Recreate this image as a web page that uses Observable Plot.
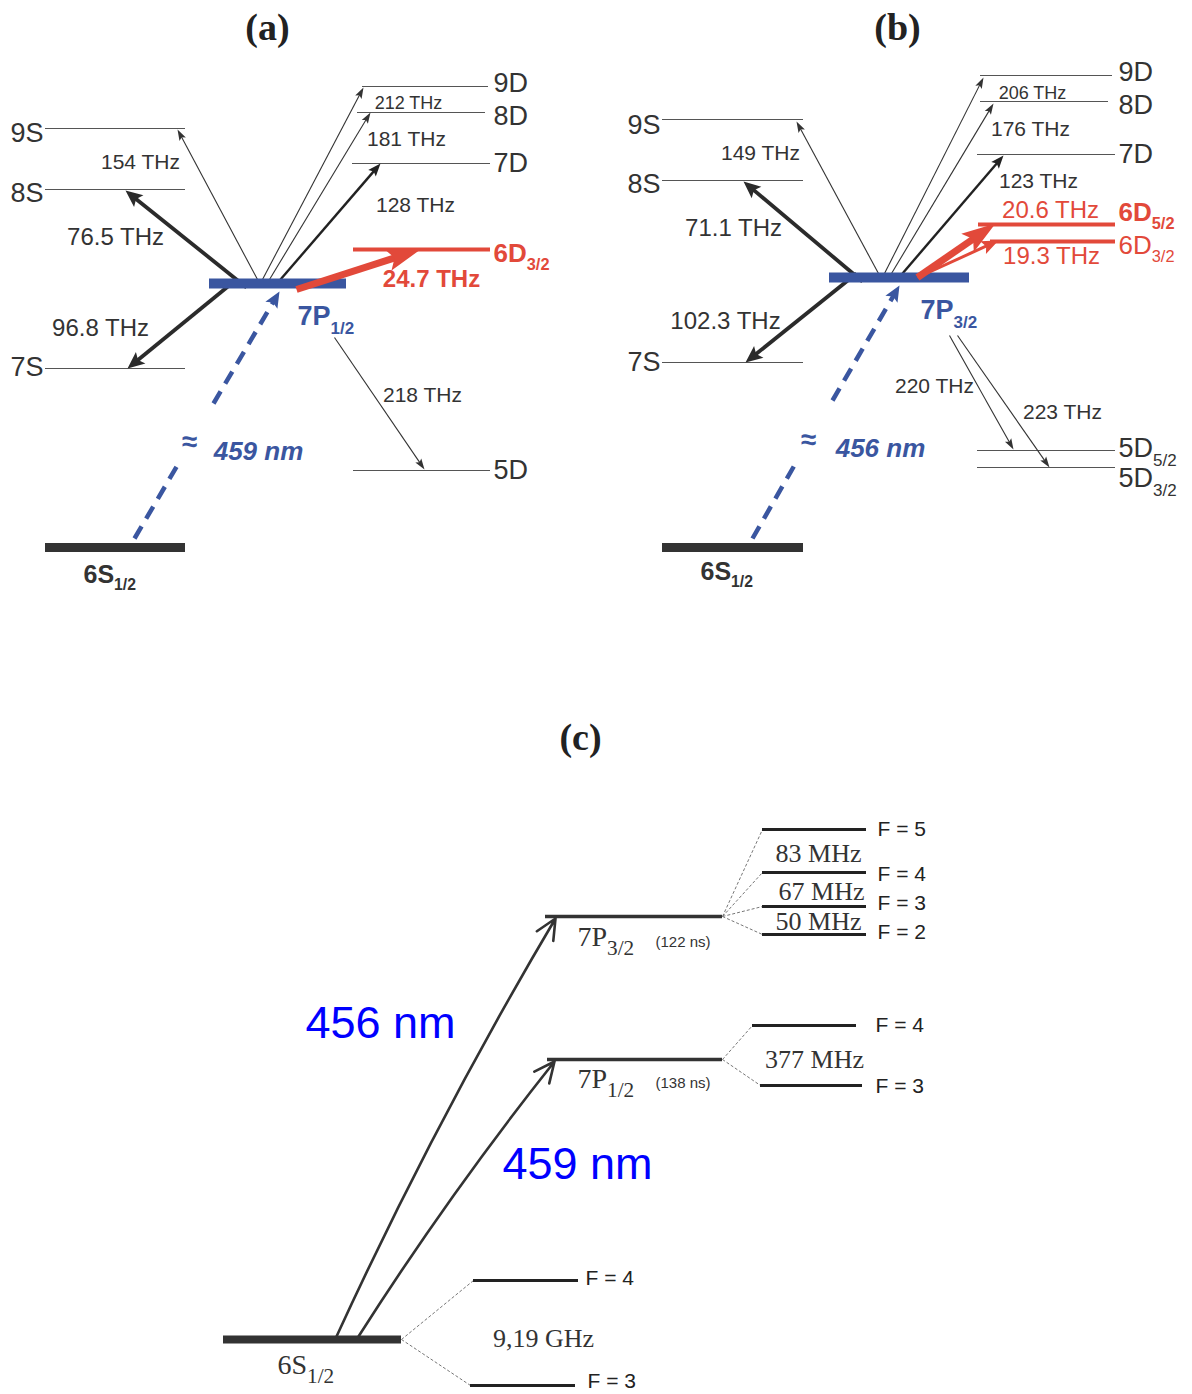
<!DOCTYPE html>
<html><head><meta charset="utf-8">
<script src="https://cdn.jsdelivr.net/npm/d3@7"></script>
<script src="https://cdn.jsdelivr.net/npm/@observablehq/plot@0.6"></script>
<style>body{margin:0;background:#fff}</style>
</head><body><div id="chart"></div>
<script>
// ---------- data (diagram coordinates) ----------
const panelTitles = [
  {text: "(a)", x: 267, y: 27},
  {text: "(b)", x: 897, y: 27},
  {text: "(c)", x: 580, y: 737}
];

const levels = [
  // panel (a)
  {name: "9S", x1: 45, x2: 185, y: 128, kind: "fine"},
  {name: "8S", x1: 45, x2: 185, y: 189, kind: "fine"},
  {name: "7S", x1: 45, x2: 185, y: 368, kind: "fine"},
  {name: "9D", x1: 362, x2: 488, y: 86, kind: "fine"},
  {name: "8D", x1: 357, x2: 485, y: 112, kind: "fine"},
  {name: "7D", x1: 352, x2: 490, y: 163, kind: "fine"},
  {name: "5D", x1: 353, x2: 490, y: 470, kind: "fine"},
  {name: "6D3/2", x1: 353, x2: 490, y: 249, kind: "red"},
  {name: "7P1/2", x1: 209, x2: 346, y: 283, kind: "excited"},
  {name: "6S1/2", x1: 45, x2: 185, y: 547, kind: "ground"},
  // panel (b)
  {name: "9S", x1: 662, x2: 803, y: 119, kind: "fine"},
  {name: "8S", x1: 662, x2: 803, y: 180, kind: "fine"},
  {name: "7S", x1: 662, x2: 803, y: 362, kind: "fine"},
  {name: "9D", x1: 980, x2: 1112, y: 75, kind: "fine"},
  {name: "8D", x1: 980, x2: 1108, y: 101, kind: "fine"},
  {name: "7D", x1: 977, x2: 1115, y: 154, kind: "fine"},
  {name: "5D5/2", x1: 977, x2: 1115, y: 450, kind: "fine"},
  {name: "5D3/2", x1: 977, x2: 1115, y: 467, kind: "fine"},
  {name: "6D5/2", x1: 978, x2: 1115, y: 224, kind: "red"},
  {name: "6D3/2", x1: 990, x2: 1115, y: 241, kind: "red"},
  {name: "7P3/2", x1: 829, x2: 969, y: 277, kind: "excited"},
  {name: "6S1/2", x1: 662, x2: 803, y: 547, kind: "ground"},
  // panel (c)
  {name: "6S1/2", x1: 223, x2: 401, y: 1339, kind: "groundC"},
  {name: "7P1/2", x1: 547, x2: 722, y: 1059, kind: "levelC"},
  {name: "7P3/2", x1: 545, x2: 722, y: 916, kind: "levelC"},
  {name: "6S F=4", x1: 473, x2: 578, y: 1280, kind: "hfs"},
  {name: "6S F=3", x1: 470, x2: 575, y: 1385, kind: "hfs"},
  {name: "7P1/2 F=4", x1: 752, x2: 856, y: 1025, kind: "hfs"},
  {name: "7P1/2 F=3", x1: 760, x2: 862, y: 1085, kind: "hfs"},
  {name: "7P3/2 F=5", x1: 762, x2: 866, y: 829, kind: "hfs"},
  {name: "7P3/2 F=4", x1: 762, x2: 866, y: 872, kind: "hfs"},
  {name: "7P3/2 F=3", x1: 762, x2: 866, y: 906, kind: "hfs"},
  {name: "7P3/2 F=2", x1: 762, x2: 866, y: 934, kind: "hfs"}
];

const levelLabels = [
  // (a)
  {text: "9S", x: 43, y: 133, kind: "left"},
  {text: "8S", x: 43, y: 193, kind: "left"},
  {text: "7S", x: 43, y: 367, kind: "left"},
  {text: "9D", x: 493, y: 83, kind: "right"},
  {text: "8D", x: 493, y: 116, kind: "right"},
  {text: "7D", x: 493, y: 163, kind: "right"},
  {text: "5D", x: 493, y: 470, kind: "right"},
  {text: "6D_3/2", x: 493, y: 253, kind: "redBold"},
  {text: "7P_1/2", x: 297, y: 316, kind: "blueBold"},
  {text: "6S_1/2", x: 83, y: 574, kind: "bold"},
  // (b)
  {text: "9S", x: 660, y: 125, kind: "left"},
  {text: "8S", x: 660, y: 184, kind: "left"},
  {text: "7S", x: 660, y: 362, kind: "left"},
  {text: "9D", x: 1118, y: 72, kind: "right"},
  {text: "8D", x: 1118, y: 105, kind: "right"},
  {text: "7D", x: 1118, y: 154, kind: "right"},
  {text: "6D_5/2", x: 1118, y: 212, kind: "redBold"},
  {text: "6D_3/2", x: 1118, y: 245, kind: "red"},
  {text: "5D_5/2", x: 1118, y: 448, kind: "right"},
  {text: "5D_3/2", x: 1118, y: 478, kind: "right"},
  {text: "7P_3/2", x: 920, y: 310, kind: "blueBold"},
  {text: "6S_1/2", x: 700, y: 571, kind: "bold"},
  // (c)
  {text: "6S_1/2", x: 277, y: 1365, kind: "serifC"},
  {text: "7P_3/2", x: 577, y: 937, kind: "serifC"},
  {text: "7P_1/2", x: 577, y: 1079, kind: "serifC"},
  {text: "(122 ns)", x: 655, y: 942, kind: "life"},
  {text: "(138 ns)", x: 655, y: 1083, kind: "life"},
  {text: "F = 5", x: 877, y: 829, kind: "F"},
  {text: "F = 4", x: 877, y: 874, kind: "F"},
  {text: "F = 3", x: 877, y: 903, kind: "F"},
  {text: "F = 2", x: 877, y: 932, kind: "F"},
  {text: "F = 4", x: 875, y: 1025, kind: "F"},
  {text: "F = 3", x: 875, y: 1086, kind: "F"},
  {text: "F = 4", x: 585, y: 1278, kind: "F"},
  {text: "F = 3", x: 587, y: 1381, kind: "F"}
];

// transitions drawn as straight arrows with filled heads
const transitions = [
  // (a) from 7P1/2
  {to: "9S", x1: 257, y1: 279, x2: 177, y2: 129, kind: "thin"},
  {to: "9D", x1: 262, y1: 279, x2: 363, y2: 87, kind: "thin"},
  {to: "8D", x1: 269, y1: 279, x2: 370, y2: 112, kind: "thin"},
  {to: "7D", x1: 280, y1: 279, x2: 380, y2: 163, kind: "medium"},
  {to: "8S", x1: 246, y1: 287, x2: 125, y2: 190, kind: "thick"},
  {to: "7S", x1: 236, y1: 279, x2: 127, y2: 368, kind: "thick"},
  {to: "5D", x1: 334, y1: 337, x2: 424, y2: 469, kind: "thin"},
  {to: "7P1/2", x1: 213, y1: 403, x2: 279, y2: 291, kind: "dashed"},
  {to: "7P1/2", x1: 134, y1: 538, x2: 178, y2: 463, kind: "dashedTail"},
  {to: "6D3/2", x1: 296, y1: 289, x2: 420, y2: 249, kind: "redWide"},
  // (b) from 7P3/2
  {to: "9S", x1: 878, y1: 273, x2: 796, y2: 121, kind: "thin"},
  {to: "9D", x1: 884, y1: 273, x2: 983, y2: 77, kind: "thin"},
  {to: "8D", x1: 891, y1: 273, x2: 993, y2: 103, kind: "thin"},
  {to: "7D", x1: 902, y1: 273, x2: 1003, y2: 155, kind: "medium"},
  {to: "8S", x1: 862, y1: 281, x2: 743, y2: 181, kind: "thick"},
  {to: "7S", x1: 856, y1: 273, x2: 745, y2: 362, kind: "thick"},
  {to: "5D5/2", x1: 949, y1: 335, x2: 1013, y2: 449, kind: "thin"},
  {to: "5D3/2", x1: 957, y1: 335, x2: 1049, y2: 467, kind: "thin"},
  {to: "7P3/2", x1: 832, y1: 400, x2: 899, y2: 285, kind: "dashed"},
  {to: "7P3/2", x1: 752, y1: 538, x2: 795, y2: 463, kind: "dashedTail"},
  {to: "6D5/2", x1: 917, y1: 277, x2: 995, y2: 223, kind: "redWide"},
  {to: "6D3/2", x1: 917, y1: 277, x2: 998, y2: 240, kind: "redNarrow"}
];

// panel (c) excitation arrows (slightly bent)
const excitations = [
  {label: "456 nm", x1: 336, y1: 1336, x2: 555, y2: 918},
  {label: "459 nm", x1: 358, y1: 1336, x2: 554, y2: 1061}
];

// panel (c) hyperfine splitting guides
const splittings = [
  {x1: 401, y1: 1339, x2: 473, y2: 1280},
  {x1: 401, y1: 1339, x2: 470, y2: 1385},
  {x1: 722, y1: 1059, x2: 752, y2: 1025},
  {x1: 722, y1: 1059, x2: 760, y2: 1085},
  {x1: 722, y1: 916, x2: 762, y2: 829},
  {x1: 722, y1: 916, x2: 762, y2: 872},
  {x1: 722, y1: 916, x2: 762, y2: 906},
  {x1: 722, y1: 916, x2: 762, y2: 934}
];

const transitionLabels = [
  // (a)
  {text: "154 THz", x: 140, y: 162, kind: "f21"},
  {text: "76.5 THz", x: 115, y: 237, kind: "f24"},
  {text: "96.8 THz", x: 100, y: 328, kind: "f24"},
  {text: "212 THz", x: 408, y: 103, kind: "f18"},
  {text: "181 THz", x: 406, y: 139, kind: "f21"},
  {text: "128 THz", x: 415, y: 205, kind: "f21"},
  {text: "24.7 THz", x: 431, y: 279, kind: "redBold"},
  {text: "218 THz", x: 422, y: 395, kind: "f21"},
  {text: "≈", x: 189, y: 442, kind: "approx"},
  {text: "459 nm", x: 258, y: 451, kind: "nmItalic"},
  // (b)
  {text: "149 THz", x: 760, y: 153, kind: "f21"},
  {text: "71.1 THz", x: 733, y: 228, kind: "f24"},
  {text: "102.3 THz", x: 725, y: 321, kind: "f24"},
  {text: "206 THz", x: 1032, y: 93, kind: "f18"},
  {text: "176 THz", x: 1030, y: 129, kind: "f21"},
  {text: "123 THz", x: 1038, y: 181, kind: "f21"},
  {text: "20.6 THz", x: 1050, y: 210, kind: "red"},
  {text: "19.3 THz", x: 1051, y: 256, kind: "red"},
  {text: "220 THz", x: 934, y: 386, kind: "f21"},
  {text: "223 THz", x: 1062, y: 412, kind: "f21"},
  {text: "≈", x: 808, y: 440, kind: "approx"},
  {text: "456 nm", x: 880, y: 448, kind: "nmItalic"},
  // (c)
  {text: "456 nm", x: 380, y: 1023, kind: "nmC"},
  {text: "459 nm", x: 577, y: 1164, kind: "nmC"},
  {text: "83 MHz", x: 818, y: 853, kind: "serif"},
  {text: "67 MHz", x: 821, y: 891, kind: "serif"},
  {text: "50 MHz", x: 818, y: 921, kind: "serif"},
  {text: "377 MHz", x: 814, y: 1059, kind: "serif"},
  {text: "9,19 GHz", x: 543, y: 1338, kind: "serif"}
];

// ---------- styles ----------
const BLUE = "#3a56a0", RED = "#e2493a", DARK = "#333333";
const SANS = "Liberation Sans, Arial, sans-serif";
const SERIF = "Liberation Serif, Times New Roman, serif";

const levelStyle = {
  fine: {stroke: "#555", strokeWidth: 1.2},
  red: {stroke: RED, strokeWidth: 4},
  excited: {stroke: BLUE, strokeWidth: 10},
  ground: {stroke: DARK, strokeWidth: 9},
  groundC: {stroke: DARK, strokeWidth: 8},
  levelC: {stroke: DARK, strokeWidth: 3.5},
  hfs: {stroke: "#222", strokeWidth: 3}
};

const arrowStyle = {
  thin: {stroke: "#333", width: 1.1, L: 11, w: 3.6},
  medium: {stroke: "#222", width: 2.4, L: 13, w: 5},
  thick: {stroke: "#2b2b2b", width: 3.8, L: 17, w: 7.5},
  dashed: {stroke: BLUE, width: 4.5, L: 16, w: 7, dash: "14,9"},
  dashedTail: {stroke: BLUE, width: 4.5, dash: "14,9", noHead: true},
  redWide: {stroke: RED, width: 7, L: 34, w: 11},
  redNarrow: {stroke: RED, width: 3, L: 17, w: 7}
};

const labelStyle = {
  left: {fontFamily: SANS, fontSize: 27, fill: DARK, textAnchor: "end"},
  right: {fontFamily: SANS, fontSize: 27, fill: DARK, textAnchor: "start"},
  redBold: {fontFamily: SANS, fontSize: 26, fill: RED, fontWeight: "bold", textAnchor: "start"},
  red: {fontFamily: SANS, fontSize: 26, fill: RED, textAnchor: "start"},
  blueBold: {fontFamily: SANS, fontSize: 27, fill: BLUE, fontWeight: "bold", textAnchor: "start"},
  bold: {fontFamily: SANS, fontSize: 25, fill: DARK, fontWeight: "bold", textAnchor: "start"},
  serifC: {fontFamily: SERIF, fontSize: 28, fill: "#333", textAnchor: "start"},
  life: {fontFamily: SANS, fontSize: 15, fill: "#333", textAnchor: "start"},
  F: {fontFamily: SANS, fontSize: 21, fill: "#222", textAnchor: "start"}
};

const tLabelStyle = {
  f21: {fontFamily: SANS, fontSize: 21, fill: DARK},
  f24: {fontFamily: SANS, fontSize: 24, fill: DARK},
  f18: {fontFamily: SANS, fontSize: 18, fill: DARK},
  redBold: {fontFamily: SANS, fontSize: 24, fill: RED, fontWeight: "bold"},
  red: {fontFamily: SANS, fontSize: 24, fill: RED},
  approx: {fontFamily: SANS, fontSize: 28, fill: BLUE, fontWeight: "bold"},
  nmItalic: {fontFamily: SANS, fontSize: 26, fill: BLUE, fontWeight: "bold", fontStyle: "italic"},
  nmC: {fontFamily: SANS, fontSize: 45, fill: "#0000ff"},
  serif: {fontFamily: SERIF, fontSize: 26, fill: "#333"}
};

// ---------- helpers ----------
const ang = d => Math.atan2(d.x2 - d.x1, -(d.y2 - d.y1)) * 180 / Math.PI;
const unit = d => { const dx = d.x2 - d.x1, dy = d.y2 - d.y1, n = Math.hypot(dx, dy); return [dx / n, dy / n]; };
const headSymbol = (L, w) => ({
  draw(ctx) {
    ctx.moveTo(0, 0);
    ctx.lineTo(-w, L);
    ctx.lineTo(0, L * 0.8);
    ctx.lineTo(w, L);
    ctx.closePath();
  }
});

function arrowMarks(kind) {
  const s = arrowStyle[kind];
  const data = transitions.filter(d => d.kind === kind);
  const cut = s.noHead ? 0 : s.L * 0.7;
  const marks = [
    Plot.link(data, {
      x1: "x1", y1: "y1",
      x2: d => d.x2 - unit(d)[0] * cut,
      y2: d => d.y2 - unit(d)[1] * cut,
      stroke: s.stroke, strokeWidth: s.width,
      strokeDasharray: s.dash, strokeLinecap: "butt"
    })
  ];
  if (!s.noHead) marks.push(Plot.dot(data, {
    x: "x2", y: "y2", rotate: ang,
    symbol: headSymbol(s.L, s.w), r: 3,
    fill: s.stroke, stroke: "none"
  }));
  return marks;
}

const levelMark = kind => Plot.ruleY(levels.filter(d => d.kind === kind), {
  y: "y", x1: "x1", x2: "x2", ...levelStyle[kind]
});

const textMarks = (arr, styles, defaults = {}) =>
  Object.keys(styles).map(k => Plot.text(arr.filter(d => d.kind === k), {
    x: "x", y: "y", text: "text", ...defaults, ...styles[k]
  }));

// ---------- plot ----------
const svg = Plot.plot({
  width: 1192, height: 1394, margin: 0,
  x: {type: "linear", domain: [0, 1192], range: [0, 1192], axis: null},
  y: {type: "linear", domain: [0, 1394], range: [0, 1394], axis: null},
  style: {background: "#fff", overflow: "visible"},
  marks: [
    levelMark("fine"),
    levelMark("red"),
    levelMark("ground"),
    Plot.link(splittings, {x1: "x1", y1: "y1", x2: "x2", y2: "y2",
      stroke: "#777", strokeWidth: 1, strokeDasharray: "3,2"}),
    levelMark("groundC"),
    levelMark("levelC"),
    levelMark("hfs"),
    ...arrowMarks("thin"),
    ...arrowMarks("medium"),
    ...arrowMarks("thick"),
    ...arrowMarks("dashedTail"),
    ...arrowMarks("dashed"),
    levelMark("excited"),
    ...arrowMarks("redWide"),
    ...arrowMarks("redNarrow"),
    Plot.arrow(excitations, {x1: "x1", y1: "y1", x2: "x2", y2: "y2",
      bend: 3, stroke: "#333", strokeWidth: 2.6, headLength: 13, headAngle: 50}),
    ...textMarks(levelLabels, labelStyle),
    ...textMarks(transitionLabels, tLabelStyle, {textAnchor: "middle"}),
    Plot.text(panelTitles, {x: "x", y: "y", text: "text",
      fontFamily: SERIF, fontSize: 38, fontWeight: "bold", fill: "#222"})
  ]
});

// render "_" as subscript
const NS = "http://www.w3.org/2000/svg";
svg.querySelectorAll("text").forEach(t => {
  const s = t.textContent;
  const k = s.indexOf("_");
  if (k < 0) return;
  const g = t.closest("[font-family]");
  const serif = g && g.getAttribute("font-family").includes("Serif");
  t.textContent = "";
  const a = document.createElementNS(NS, "tspan");
  a.textContent = s.slice(0, k);
  const b = document.createElementNS(NS, "tspan");
  b.textContent = s.slice(k + 1);
  b.setAttribute("font-size", serif ? "0.76em" : "0.63em");
  b.setAttribute("dy", serif ? "0.42em" : "0.5em");
  t.append(a, b);
});

document.getElementById("chart").append(svg);
</script></body></html>
